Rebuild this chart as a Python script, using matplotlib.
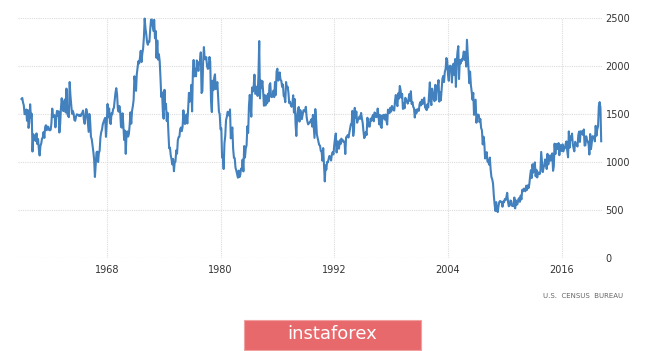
import matplotlib.pyplot as plt
import matplotlib.patches as patches
import pandas as pd

# US housing starts, thousands of units (monthly, SAAR), 1959 - Mar 2020
starts = [
    1657, 1667, 1620, 1590, 1498, 1503, 1547, 1430, 1540, 1355, 1416, 1601,  # 1959
    1460, 1503, 1109, 1289, 1266, 1231, 1218, 1298, 1187, 1240, 1132, 1068,  # 1960
    1169, 1193, 1242, 1257, 1312, 1251, 1365, 1383, 1331, 1369, 1366, 1333,  # 1961
    1330, 1337, 1410, 1556, 1470, 1490, 1484, 1361, 1475, 1532, 1479, 1528,  # 1962
    1307, 1399, 1561, 1664, 1555, 1530, 1631, 1652, 1517, 1765, 1502, 1482,  # 1963
    1467, 1833, 1695, 1599, 1502, 1533, 1507, 1437, 1429, 1469, 1497, 1493,  # 1964
    1492, 1478, 1492, 1478, 1501, 1512, 1536, 1441, 1398, 1478, 1552, 1519,  # 1965
    1420, 1314, 1500, 1423, 1264, 1236, 1172, 1108, 1025, 844, 971, 1100,    # 1966
    1108, 1000, 1092, 1117, 1256, 1311, 1338, 1394, 1420, 1442, 1460, 1262,  # 1967
    1410, 1604, 1466, 1558, 1415, 1395, 1508, 1496, 1551, 1563, 1638, 1721,  # 1968
    1769, 1705, 1561, 1524, 1583, 1528, 1368, 1358, 1507, 1381, 1229, 1327,  # 1969
    1085, 1305, 1319, 1264, 1290, 1385, 1517, 1399, 1534, 1580, 1647, 1893,  # 1970
    1828, 1741, 1910, 1986, 2049, 2026, 2083, 2158, 2041, 2128, 2182, 2295,  # 1971
    2494, 2390, 2334, 2249, 2221, 2254, 2252, 2382, 2481, 2485, 2421, 2366,  # 1972
    2481, 2289, 2365, 2084, 2266, 2067, 2123, 2051, 1874, 1677, 1724, 1526,  # 1973
    1451, 1752, 1555, 1607, 1426, 1513, 1316, 1142, 1150, 1070, 1026, 975,   # 1974
    1032, 904, 993, 1005, 1121, 1087, 1226, 1260, 1264, 1344, 1360, 1321,    # 1975
    1367, 1538, 1421, 1395, 1459, 1495, 1401, 1550, 1720, 1629, 1641, 1804,  # 1976
    1527, 1943, 2063, 1892, 1971, 1893, 2058, 2020, 1949, 2042, 2042, 2142,  # 1977
    1718, 1738, 2032, 2197, 2075, 2070, 2092, 1996, 1970, 1981, 2094, 2044,  # 1978
    1630, 1520, 1847, 1748, 1876, 1913, 1760, 1778, 1832, 1681, 1524, 1498,  # 1979
    1341, 1350, 1047, 1051, 927, 1196, 1269, 1436, 1471, 1523, 1510, 1482,   # 1980
    1547, 1246, 1306, 1360, 1140, 1045, 1041, 940, 911, 873, 837, 910,       # 1981
    843, 866, 931, 917, 1025, 902, 1166, 1046, 1144, 1173, 1372, 1303,       # 1982
    1586, 1699, 1606, 1472, 1776, 1733, 1785, 1910, 1710, 1715, 1785, 1688,  # 1983
    1897, 2260, 1663, 1851, 1774, 1843, 1732, 1586, 1698, 1590, 1689, 1612,  # 1984
    1711, 1632, 1800, 1821, 1680, 1676, 1684, 1743, 1676, 1834, 1698, 1942,  # 1985
    1972, 1848, 1876, 1933, 1854, 1847, 1782, 1807, 1687, 1681, 1623, 1833,  # 1986
    1774, 1784, 1726, 1614, 1628, 1594, 1575, 1605, 1695, 1515, 1656, 1400,  # 1987
    1271, 1473, 1532, 1573, 1421, 1541, 1509, 1447, 1497, 1539, 1540, 1526,  # 1988
    1575, 1467, 1422, 1392, 1404, 1414, 1425, 1445, 1369, 1491, 1361, 1251,  # 1989
    1551, 1437, 1289, 1248, 1212, 1177, 1171, 1115, 1110, 1014, 1145, 969,   # 1990
    798, 965, 921, 1001, 996, 1036, 1063, 1049, 1015, 1079, 1103, 1079,      # 1991
    1176, 1250, 1297, 1099, 1214, 1145, 1139, 1226, 1186, 1244, 1214, 1227,  # 1992
    1210, 1210, 1083, 1258, 1260, 1280, 1254, 1300, 1343, 1392, 1392, 1533,  # 1993
    1272, 1337, 1564, 1465, 1526, 1409, 1439, 1450, 1474, 1450, 1511, 1455,  # 1994
    1407, 1316, 1249, 1267, 1314, 1281, 1461, 1416, 1369, 1369, 1452, 1431,  # 1995
    1467, 1491, 1424, 1516, 1504, 1467, 1472, 1557, 1475, 1392, 1489, 1370,  # 1996
    1355, 1486, 1457, 1492, 1442, 1494, 1437, 1390, 1546, 1520, 1510, 1566,  # 1997
    1525, 1584, 1567, 1540, 1536, 1641, 1698, 1614, 1582, 1715, 1660, 1792,  # 1998
    1748, 1670, 1710, 1553, 1611, 1559, 1669, 1648, 1635, 1608, 1648, 1708,  # 1999
    1636, 1737, 1604, 1626, 1575, 1559, 1463, 1541, 1507, 1549, 1551, 1532,  # 2000
    1600, 1625, 1590, 1649, 1605, 1636, 1670, 1567, 1562, 1540, 1602, 1568,  # 2001
    1698, 1829, 1642, 1592, 1764, 1717, 1655, 1633, 1804, 1648, 1753, 1788,  # 2002
    1853, 1629, 1726, 1643, 1751, 1867, 1897, 1833, 1939, 1967, 2083, 2057,  # 2003
    1911, 1846, 1998, 2003, 1981, 1828, 2002, 2024, 1905, 2072, 1782, 2042,  # 2004
    2144, 2207, 1864, 2061, 2025, 2068, 2054, 2095, 2151, 2065, 2147, 1994,  # 2005
    2273, 2119, 1969, 1821, 1942, 1802, 1737, 1650, 1720, 1491, 1570, 1649,  # 2006
    1409, 1480, 1495, 1490, 1415, 1448, 1354, 1330, 1183, 1264, 1197, 1037,  # 2007
    1084, 1103, 1005, 1013, 973, 1046, 923, 844, 820, 777, 652, 560,         # 2008
    490, 582, 505, 478, 540, 585, 594, 586, 585, 534, 588, 581,              # 2009
    614, 604, 636, 679, 588, 539, 546, 599, 594, 543, 545, 539,              # 2010
    630, 517, 600, 554, 561, 608, 623, 585, 650, 610, 711, 694,              # 2011
    723, 704, 695, 753, 708, 757, 728, 770, 854, 915, 833, 976,              # 2012
    889, 962, 996, 851, 919, 839, 893, 885, 873, 905, 1105, 1001,            # 2013
    895, 943, 963, 1027, 1002, 927, 1085, 974, 1037, 1067, 1014, 1069,       # 2014
    1090, 908, 954, 1191, 1082, 1188, 1134, 1144, 1197, 1071, 1177, 1145,    # 2015
    1114, 1184, 1110, 1152, 1142, 1189, 1215, 1114, 1049, 1319, 1150, 1266,  # 2016
    1231, 1296, 1192, 1142, 1111, 1211, 1185, 1175, 1161, 1280, 1317, 1209,  # 2017
    1320, 1296, 1320, 1281, 1339, 1171, 1174, 1268, 1229, 1212, 1187, 1078,  # 2018
    1291, 1134, 1193, 1269, 1265, 1262, 1215, 1377, 1274, 1340, 1371, 1583,  # 2019
    1624, 1567, 1216,                                                        # 2020
]
dates = pd.date_range('1959-01-01', periods=len(starts), freq='MS')

year_ticks = [1968, 1980, 1992, 2004, 2016]
y_ticks = [0, 500, 1000, 1500, 2000, 2500]

fig = plt.figure(figsize=(6.65, 3.51), dpi=100)
ax = fig.add_axes([18 / 665, 93 / 351, 584 / 665, 240 / 351])

ax.plot(dates, starts, color='#4281be', lw=1.5, clip_on=False, zorder=3)

ax.set_xlim(pd.Timestamp('1958-08-20'), pd.Timestamp('2020-04-01'))
ax.set_ylim(0, 2500)
ax.set_xticks([pd.Timestamp(f'{y}-01-01') for y in year_ticks])
ax.set_xticklabels([str(y) for y in year_ticks])
ax.set_yticks(y_ticks)
ax.yaxis.tick_right()
ax.tick_params(axis='both', length=0, labelsize=7, colors='#333333')
ax.tick_params(axis='x', pad=5)
ax.tick_params(axis='y', pad=2.5)
ax.grid(True, color='#dcdcdc', linestyle=(0, (1, 1)), lw=0.8)
ax.set_axisbelow(True)
for s in ax.spines.values():
    s.set_visible(False)

fig.text(623 / 665, 1 - 296 / 351, 'U.S.  CENSUS  BUREAU', ha='right', va='center',
         fontsize=5, color='#666666')

# instaforex badge
badge = patches.Rectangle((244 / 665, 1 - 350 / 351), 177 / 665, 30 / 351,
                          transform=fig.transFigure, facecolor='#e8696c',
                          edgecolor='#f0a0a0', lw=0.8)
fig.patches.append(badge)
fig.text(332 / 665, 1 - 334 / 351, 'instaforex', ha='center', va='center',
         fontsize=13, color='white')

plt.savefig('out.png', dpi=100)
